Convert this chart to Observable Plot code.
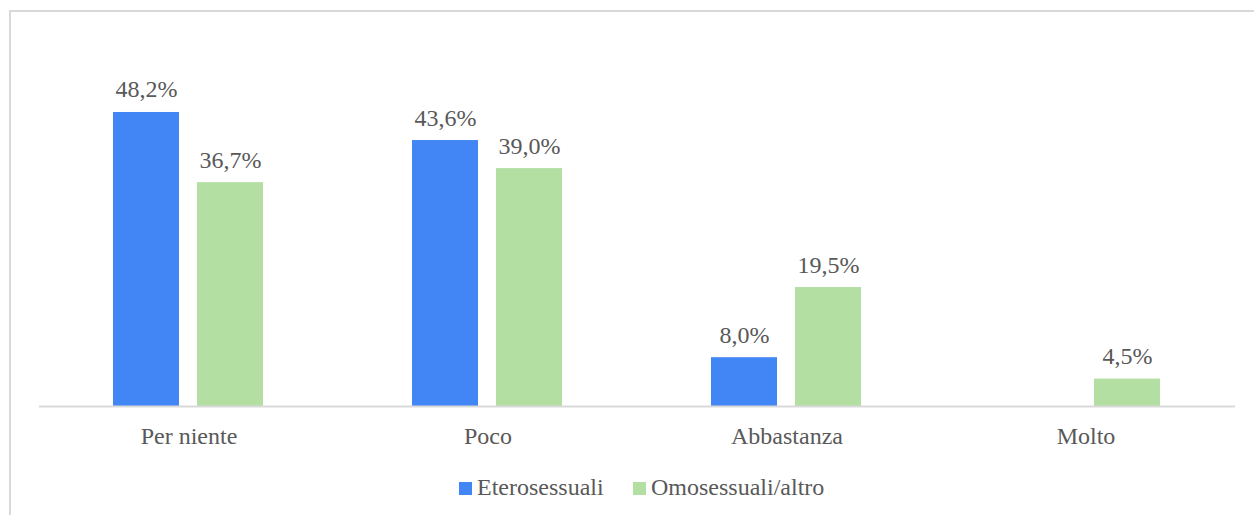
<!DOCTYPE html>
<html><head><meta charset="utf-8">
<script src="https://cdn.jsdelivr.net/npm/d3@7"></script>
<script src="https://cdn.jsdelivr.net/npm/@observablehq/plot@0.6"></script>
<style>
body{margin:0;background:#fff;}
#wrap{position:relative;width:1254px;height:515px;overflow:hidden;font-family:"Liberation Serif","DejaVu Serif",serif;color:#595959;}
#frame{position:absolute;left:9px;top:10px;width:1300px;height:600px;border-top:2px solid #d9d9d9;border-left:2px solid #d9d9d9;pointer-events:none;}
#legend{position:relative;height:45px;font-size:24px;}
.item{position:absolute;top:4px;line-height:26px;white-space:nowrap;}
.sw{display:inline-block;width:13px;height:13px;margin-right:5px;vertical-align:0px;}
</style></head>
<body>
<div id="wrap"><div id="frame"></div><div id="chart"></div><div id="legend"></div></div>
<script>
const categories = ["Per niente", "Poco", "Abbastanza", "Molto"];
const seriesNames = ["Eterosessuali", "Omosessuali/altro"];
const eterosessuali = [48.2, 43.6, 8.0, 0];
const omosessuali = [36.7, 39.0, 19.5, 4.5];
const colors = ["#4285f4", "#b3dfa3"];

const data = [];
categories.forEach((c, i) => {
  data.push({cat: c, serie: seriesNames[0], value: eterosessuali[i]});
  data.push({cat: c, serie: seriesNames[1], value: omosessuali[i]});
});
const shown = data.filter(d => d.value > 0);
const fmt = v => d3.format(".1f")(v).replace(".", ",") + "%";

const chart = Plot.plot({
  width: 1254,
  height: 470,
  marginLeft: 38,
  marginRight: 19,
  marginTop: 40,
  marginBottom: 64,
  style: {fontFamily: "Liberation Serif, DejaVu Serif, serif", fontSize: "24px", color: "#595959", background: "transparent"},
  fx: {domain: categories, padding: 0, label: null},
  x: {domain: seriesNames, axis: null, paddingInner: 0.212, paddingOuter: 0.866},
  y: {domain: [0, 60], axis: null},
  color: {domain: seriesNames, range: colors},
  marks: [
    Plot.barY(shown, {fx: "cat", x: "serie", y: "value", fill: "serie"}),
    Plot.ruleY([0], {stroke: "#d9d9d9", strokeWidth: 2}),
    Plot.text(shown, {fx: "cat", x: "serie", y: "value", text: d => fmt(d.value), lineAnchor: "bottom", dy: -15, fill: "#595959"}),
    Plot.axisFx({anchor: "bottom", tickSize: 0, tickPadding: 20, label: null, fill: "#595959"})
  ]
});
document.getElementById("chart").appendChild(chart);

const legend = document.getElementById("legend");
const lx = [459, 633];
seriesNames.forEach((s, i) => {
  const it = document.createElement("div");
  it.className = "item";
  it.style.left = lx[i] + "px";
  it.innerHTML = `<span class="sw" style="background:${colors[i]}"></span>${s}`;
  legend.appendChild(it);
});
</script>
</body></html>
